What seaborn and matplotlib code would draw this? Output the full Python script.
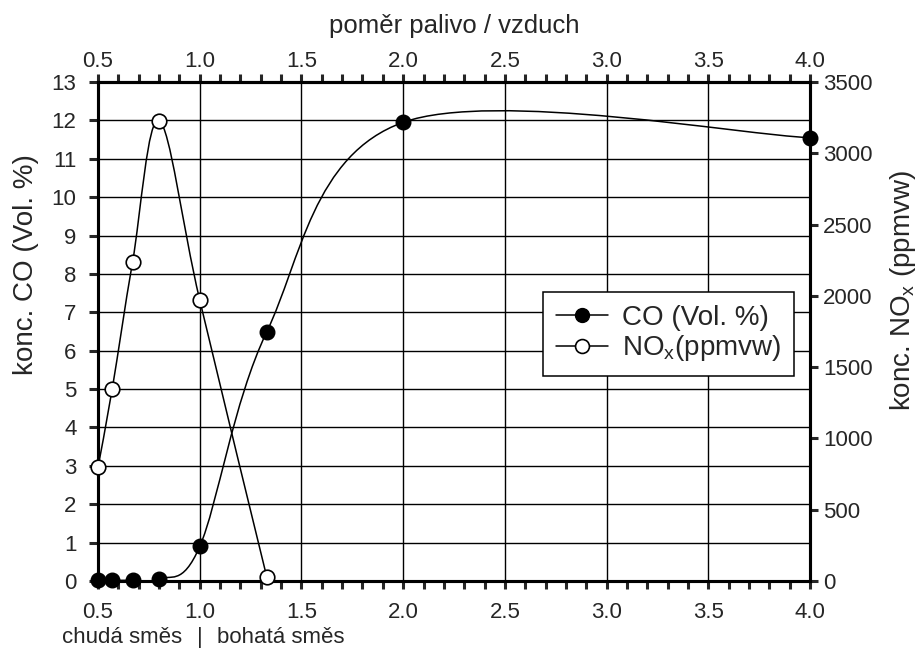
import matplotlib
matplotlib.use("Agg")
import matplotlib.pyplot as plt
import numpy as np
import seaborn as sns
from matplotlib.lines import Line2D
from matplotlib.path import Path
from matplotlib.patches import PathPatch

# fuel / air ratio
ratio = [0.5, 0.57, 0.67, 0.8, 1.0, 1.33, 2.0, 4.0]
co_vol = [0.02, 0.02, 0.02, 0.05, 0.9, 6.5, 11.95, 11.55]

ratio_nox = [0.5, 0.57, 0.67, 0.8, 1.0, 1.33]
nox_ppm = [800, 1350, 2240, 3230, 1970, 25]

x_ticks = [0.5, 1.0, 1.5, 2.0, 2.5, 3.0, 3.5, 4.0]
co_ticks = list(range(0, 14))
nox_ticks = [0, 500, 1000, 1500, 2000, 2500, 3000, 3500]


def smooth_path(xs, ys):
    # smoothed line through the points (Catmull-Rom as cubic Bezier)
    p = np.column_stack([xs, ys]).astype(float)
    n = len(p)
    verts = [p[0]]
    codes = [Path.MOVETO]
    for i in range(n - 1):
        prev = p[i - 1] if i > 0 else p[i]
        nxt = p[i + 2] if i + 2 < n else p[i + 1]
        c1 = p[i] + (p[i + 1] - prev) / 6
        c2 = p[i + 1] - (nxt - p[i]) / 6
        verts += [c1, c2, p[i + 1]]
        codes += [Path.CURVE4] * 3
    return Path(verts, codes)


sns.set_style("ticks")
plt.rcParams["font.family"] = ["Liberation Sans", "DejaVu Sans"]
plt.rcParams["mathtext.fontset"] = "custom"
plt.rcParams["mathtext.rm"] = "Liberation Sans"
plt.rcParams["mathtext.it"] = "Liberation Sans"

TICK_FS = 16
LABEL_FS = 20

fig = plt.figure(figsize=(9.18, 6.51), dpi=100)
ax = fig.add_axes([0.1068, 0.1075, 0.7756, 0.7665])
ax2 = ax.twinx()

ax.set_xlim(0.5, 4.0)
ax.set_ylim(0, 13)
ax2.set_ylim(0, 3500)
ax.set_xticks(x_ticks)
ax.set_xticks(np.arange(0.5, 4.01, 0.1), minor=True)
ax.set_xticklabels([f"{v:.1f}" for v in x_ticks])
ax.set_yticks(co_ticks)
ax2.set_yticks(nox_ticks)

ax.grid(True, which="major", color="black", linewidth=1.0)
ax.tick_params(axis="x", which="both", direction="out", length=6, width=2.2,
               labelsize=TICK_FS, pad=9)
ax.tick_params(axis="y", direction="out", length=6.5, width=2.2,
               labelsize=TICK_FS, pad=9)
ax2.tick_params(axis="y", direction="out", length=6, width=2.2,
                labelsize=TICK_FS, pad=3.5)

# top axis with the same ratio scale
top = ax.secondary_xaxis("top")
top.set_xticks(x_ticks)
top.set_xticks(np.arange(0.5, 4.01, 0.1), minor=True)
top.set_xticklabels([f"{v:.1f}" for v in x_ticks])
top.tick_params(axis="x", which="both", direction="out", length=6, width=2.2,
                labelsize=TICK_FS, pad=1.5)

for a in (ax, ax2, top):
    for s in a.spines.values():
        s.set_linewidth(2.2)
        s.set_color("black")

# CO curve
ax.add_patch(PathPatch(smooth_path(ratio, co_vol), fill=False, edgecolor="black",
                       linewidth=1.1, zorder=3))
sns.scatterplot(x=ratio, y=co_vol, ax=ax, s=110, color="black", edgecolor="black",
                linewidth=1, zorder=5, clip_on=False)

# NOx curve
ax2.add_patch(PathPatch(smooth_path(ratio_nox, nox_ppm), fill=False,
                        edgecolor="black", linewidth=1.1, zorder=3))
sns.scatterplot(x=ratio_nox, y=nox_ppm, ax=ax2, s=110, color="white",
                edgecolor="black", linewidth=1.2, zorder=5, clip_on=False)

handles = [
    Line2D([], [], color="black", lw=1.1, marker="o", markersize=10,
           markerfacecolor="black", markeredgecolor="black"),
    Line2D([], [], color="black", lw=1.1, marker="o", markersize=10,
           markerfacecolor="white", markeredgecolor="black", markeredgewidth=1.2),
]
leg = ax2.legend(handles, ["CO (Vol. %)", "NO$_\\mathrm{x}$(ppmvw)"],
                 loc="upper left", bbox_to_anchor=(0.625, 0.579), fontsize=LABEL_FS,
                 frameon=True, fancybox=False, framealpha=1, edgecolor="black",
                 handlelength=1.9, handletextpad=0.5, borderpad=0.45,
                 labelspacing=0.1, borderaxespad=0)
leg.get_frame().set_linewidth(1.1)

fig.text(0.028, 0.594, "konc. CO (Vol. %)", rotation=90, ha="center", va="center",
         fontsize=LABEL_FS)
fig.text(0.984, 0.553, "konc. NO$_\\mathrm{x}$ (ppmvw)", rotation=90, ha="center",
         va="center", fontsize=LABEL_FS)
fig.text(0.4946, 0.949, "poměr palivo / vzduch", ha="center", va="baseline",
         fontsize=18.5)

xt = ax.get_xaxis_transform()
ax.text(1.0, -0.114, "|", transform=xt, ha="center", va="center", fontsize=16)
ax.text(0.915, -0.114, "chudá směs", transform=xt, ha="right", va="center",
        fontsize=16)
ax.text(1.083, -0.114, "bohatá směs", transform=xt, ha="left", va="center",
        fontsize=16)

fig.savefig("out.png", dpi=100)
plt.close(fig)
